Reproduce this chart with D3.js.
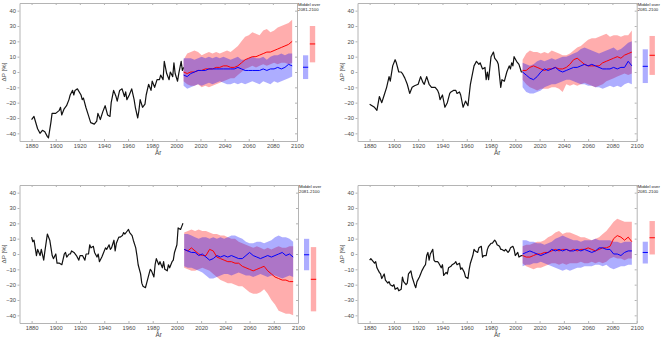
<!DOCTYPE html>
<html>
<head>
<meta charset="utf-8">
<script src="https://cdn.jsdelivr.net/npm/d3@7"></script>
<style>
  body { margin: 0; background: #fff; }
  svg { display: block; }
</style>
</head>
<body>
<svg id="chart" width="663" height="337"></svg>
<script>
// ---- axis ticks ----
const xTicks = [1880, 1900, 1920, 1940, 1960, 1980, 2000, 2020, 2040, 2060, 2080, 2100];
const yTicks = [-40, -30, -20, -10, 0, 10, 20, 30, 40];

// ---- projection years (shared by all panels) ----
const projYears = [2006, 2009, 2012, 2015, 2018, 2021, 2024, 2027, 2030, 2033, 2036, 2039, 2042, 2045, 2048,
  2051, 2054, 2057, 2060, 2063, 2066, 2069, 2072, 2075, 2078, 2081, 2084, 2087, 2090, 2093, 2096];

// ---- panel A (top left) ----
const obsYearsA = [1880, 1882, 1885, 1887, 1889, 1891, 1893, 1894, 1896, 1897, 1900, 1903, 1904, 1905, 1907, 1909,
  1911, 1912, 1914, 1915, 1916, 1918, 1921, 1922, 1923, 1925, 1927, 1929, 1932, 1934, 1935, 1937, 1939, 1941, 1943,
  1945, 1946, 1948, 1950, 1951, 1953, 1955, 1957, 1958, 1959, 1961, 1963, 1965, 1966, 1968, 1969, 1970, 1972, 1974,
  1975, 1977, 1979, 1980, 1982, 1984, 1986, 1987, 1989, 1990, 1992, 1994, 1995, 1997, 1998, 1999, 2001, 2002, 2004,
  2005, 2006];
const obsA = [-31, -29, -37, -40, -38, -39, -42, -43, -33, -27, -27, -25, -23, -28, -24, -22,
  -18, -15, -12, -15, -12, -11, -15, -18, -17, -23, -28, -33, -34, -32, -27, -31, -26, -22, -28,
  -29, -20, -12, -16, -19, -12, -11, -16, -13, -18, -15, -11, -18, -23, -30, -25, -18, -23, -21,
  -15, -8, -12, -6, -10, -5, -5, -2, -5, 7, -1, -5, 0, -3, 6, -1, -6, -1, 7,
  1, 3];
const redHiA = [8, 12, 13, 14, 13, 11, 12, 13, 12, 13, 12, 13, 14, 13, 15, 17, 20, 23, 24, 26, 25, 24, 27, 28, 26, 27, 29, 30, 31, 32, 34];
const redLoA = [-6, -8, -9, -9, -8, -10, -9, -10, -9, -8, -7, -6, -5, -4, -4, -2, 0, 2, 3, 4, 3, 4, 5, 4, 5, 6, 5, 6, 6, 5, 6];
const redMidA = [0, -1, 0, 0, 1, 1, 2, 2, 2, 3, 3, 4, 4, 3, 3, 4, 6, 8, 9, 10, 10, 11, 12, 13, 13, 14, 15, 16, 17, 18, 20];
const blueHiA = [9, 9, 9, 8, 9, 10, 9, 10, 9, 10, 9, 10, 9, 8, 9, 10, 8, 8, 9, 10, 9, 9, 10, 8, 10, 11, 11, 12, 11, 12, 12];
const blueLoA = [-9, -11, -10, -9, -8, -9, -8, -7, -8, -7, -6, -7, -8, -8, -7, -8, -7, -8, -7, -6, -7, -8, -6, -7, -8, -6, -7, -6, -5, -4, -3];
const blueMidA = [-2, -3, -1, 0, 1, 1, 1, 2, 2, 2, 2, 2, 2, 2, 2, 3, 2, 1, 1, 1, 1, 1, 2, 1, 2, 2, 3, 2, 3, 5, 4];
const barBlueA = [-4.6, 3.1, 10.9];   // low, mean, high (2081-2100)
const barRedA = [6.3, 18.3, 30];

// ---- panel B (top right) ----
const obsYearsB = [1880, 1882, 1884, 1886, 1888, 1890, 1892, 1894, 1896, 1897, 1899, 1901, 1902, 1904, 1906, 1907,
  1909, 1911, 1913, 1915, 1917, 1920, 1922, 1924, 1925, 1927, 1929, 1931, 1934, 1936, 1937, 1938, 1940, 1942, 1944,
  1946, 1947, 1949, 1951, 1952, 1954, 1955, 1957, 1959, 1961, 1963, 1964, 1966, 1968, 1970, 1971, 1973, 1975, 1976,
  1977, 1978, 1980, 1982, 1983, 1985, 1986, 1988, 1989, 1991, 1993, 1995, 1996, 1997, 1998, 1999, 2001, 2003, 2005,
  2006];
const obsB = [-21, -22, -23, -25, -16, -20, -15, -10, -3, -6, 4, 8, 6, 0, 0, -1,
  -4, -8, -14, -10, -9, -8, -3, -7, -8, -3, -8, -10, -10, -12, -14, -18, -15, -23, -20,
  -14, -13, -12, -12, -14, -13, -15, -23, -19, -22, -8, -4, 4, 7, 5, 6, 2, 3, -5,
  0, -5, 10, 13, 9, 7, 5, -10, -5, -6, 0, 4, 2, 6, 4, 10, 7, 5, 0,
  0];
const redHiB = [8, 12, 14, 13, 13, 12, 13, 12, 14, 13, 12, 11, 11, 12, 14, 16, 17, 19, 21, 22, 22, 23, 24, 25, 23, 24, 24, 23, 24, 24, 27];
const redLoB = [-5, -8, -10, -11, -12, -11, -11, -11, -10, -10, -11, -13, -8, -9, -8, -9, -8, -7, -8, -9, -10, -9, -8, -6, -5, -4, -3, -2, -1, -2, -1];
const redMidB = [1, 1, 3, 4, 3, 2, 1, 2, 2, 3, 2, 2, 3, 5, 8, 9, 7, 5, 4, 4, 4, 4, 6, 7, 8, 9, 10, 9, 11, 12, 13];
const blueHiB = [6, 5, 4, 5, 7, 8, 7, 8, 9, 8, 9, 10, 10, 11, 12, 13, 15, 16, 15, 14, 13, 12, 13, 14, 15, 16, 14, 15, 17, 19, 20];
const blueLoB = [-10, -13, -14, -14, -13, -12, -10, -9, -8, -8, -7, -6, -5, -5, -6, -7, -8, -8, -9, -9, -10, -10, -11, -10, -9, -10, -9, -10, -8, -7, -8];
const blueMidB = [0, -2, -4, -5, -3, 0, 2, 1, 2, 3, 1, 0, 1, 2, 3, 3, 4, 5, 4, 5, 4, 3, 2, 2, 2, 3, 2, 3, 3, 7, 4];
const barBlueB = [-7.2, 3.7, 14.8];
const barRedB = [-1.9, 10.9, 23.5];

// ---- panel C (bottom left) ----
const obsYearsC = [1880, 1881, 1882, 1884, 1885, 1887, 1888, 1890, 1891, 1893, 1895, 1897, 1898, 1900, 1901, 1903,
  1905, 1907, 1908, 1909, 1911, 1912, 1913, 1915, 1917, 1919, 1920, 1922, 1924, 1925, 1927, 1928, 1929, 1931, 1932,
  1934, 1935, 1936, 1938, 1939, 1941, 1942, 1944, 1945, 1946, 1948, 1949, 1950, 1952, 1953, 1955, 1956, 1957, 1959,
  1960, 1961, 1963, 1964, 1966, 1967, 1968, 1970, 1971, 1972, 1974, 1975, 1977, 1978, 1979, 1981, 1982, 1983, 1985,
  1986, 1988, 1989, 1990, 1992, 1993, 1994, 1996, 1997, 1998, 2000, 2001, 2003, 2004, 2005];
const obsC = [11, 8, 9, -1, 3, -1, 3, -4, 2, 13, 9, -1, -3, 0, -6, -6,
  -7, 0, 1, -2, 0, 0, 2, 1, -1, -4, -1, -1, -4, 0, 0, 6, 4, 5, 1,
  -2, 0, -5, -2, 0, 4, 3, 6, 3, 4, 9, 2, 7, 11, 11, 12, 14, 13, 15,
  16, 14, 12, 9, 4, -1, -7, -13, -19, -21, -22, -19, -13, -10, -11, -15, -7, -3, -7,
  -5, -9, -5, -10, -11, -7, -9, -5, -4, 1, 6, 17, 16, 18, 20];
const redHiC = [14, 15, 16, 15, 16, 15, 15, 14, 13, 13, 12, 12, 11, 10, 10, 8, 7, 6, 5, 4, 5, 4, 3, 4, 3, 4, 5, 4, 4, 5, 5];
const redLoC = [-9, -10, -11, -11, -10, -9, -10, -11, -13, -15, -17, -18, -19, -19, -20, -21, -21, -23, -25, -26, -26, -25, -23, -26, -30, -33, -37, -38, -39, -39, -40];
const redMidC = [3, 2, 4, 2, 0, -1, -1, 3, 2, -2, -3, -4, -5, -5, -6, -6, -8, -9, -10, -11, -10, -9, -8, -11, -13, -15, -16, -17, -17, -18, -18];
const blueHiC = [13, 13, 12, 11, 10, 11, 11, 10, 11, 10, 11, 10, 11, 12, 12, 11, 10, 8, 7, 7, 8, 8, 7, 8, 9, 11, 12, 11, 11, 10, 8];
const blueLoC = [-8, -9, -9, -10, -11, -12, -14, -16, -16, -15, -14, -13, -13, -14, -13, -12, -13, -14, -14, -15, -14, -13, -14, -15, -14, -14, -15, -16, -15, -14, -15];
const blueMidC = [3, 2, 1, 1, -1, 0, -2, -4, -3, -1, -2, -1, -2, -1, -2, -3, -3, -1, 1, -1, -2, -3, -2, -1, -2, -1, 0, 1, -1, 0, -2];
const barBlueC = [-10.6, -0.5, 9.9];
const barRedC = [-37.4, -16.5, 4.5];

// ---- panel D (bottom right) ----
const obsYearsD = [1880, 1881, 1882, 1884, 1885, 1886, 1888, 1889, 1890, 1892, 1893, 1895, 1896, 1897, 1899, 1900,
  1901, 1903, 1904, 1906, 1907, 1908, 1910, 1911, 1912, 1914, 1915, 1917, 1918, 1919, 1921, 1922, 1923, 1925, 1926,
  1927, 1928, 1929, 1930, 1932, 1933, 1934, 1936, 1937, 1939, 1940, 1941, 1943, 1944, 1945, 1947, 1948, 1950, 1951,
  1952, 1954, 1955, 1956, 1958, 1959, 1961, 1962, 1963, 1965, 1966, 1967, 1969, 1970, 1972, 1973, 1974, 1976, 1977,
  1978, 1980, 1981, 1983, 1984, 1985, 1987, 1988, 1989, 1991, 1992, 1994, 1995, 1996, 1998, 1999, 2000, 2002, 2003,
  2005, 2006];
const obsD = [-4, -3, -4, -6, -5, -9, -12, -13, -16, -13, -17, -19, -18, -20, -21, -20,
  -23, -22, -24, -23, -15, -18, -20, -19, -13, -11, -15, -20, -22, -18, -15, -13, -11, -8, -7,
  -1, 1, -4, 0, 3, -4, -5, -5, -6, -9, -7, -14, -12, -13, -9, -8, -7, -6, -5,
  -7, -6, -10, -9, -12, -15, -16, -10, -6, -1, 3, 2, 1, 4, 5, -2, -1, -1, 3,
  5, 7, 7, 9, 8, 6, 5, 3, 3, 2, 3, 1, 2, 4, 5, 3, -1, 1, -2,
  -1, -1];
const redHiD = [5, 6, 6, 7, 8, 8, 9, 11, 12, 14, 15, 13, 14, 14, 13, 12, 11, 11, 10, 9, 10, 11, 13, 15, 18, 21, 23, 22, 21, 21, 21];
const redLoD = [-6, -8, -9, -10, -9, -9, -8, -7, -6, -6, -7, -6, -7, -6, -6, -6, -5, -6, -6, -5, -6, -5, -6, -5, -3, -2, -3, -3, -4, -3, -3];
const redMidD = [-1, -2, -2, -1, 0, 0, 1, 1, 2, 3, 2, 3, 3, 2, 3, 2, 3, 3, 4, 3, 2, 3, 4, 4, 5, 10, 12, 11, 9, 11, 8];
const blueHiD = [9, 9, 8, 8, 7, 7, 6, 7, 8, 10, 11, 12, 11, 10, 9, 9, 8, 9, 9, 9, 10, 9, 9, 9, 9, 8, 8, 7, 8, 8, 8];
const blueLoD = [-8, -7, -7, -6, -6, -5, -6, -7, -8, -9, -10, -11, -10, -11, -10, -9, -9, -8, -8, -8, -7, -7, -8, -7, -9, -10, -9, -8, -8, -7, -7];
const blueMidD = [0, 1, 2, 1, 0, -1, 0, 1, 3, 2, 3, 2, 3, 2, 2, 3, 2, 3, 2, 1, 2, 4, 4, 3, 3, 0, 0, -1, 1, 2, 2];
const barBlueD = [-6.2, 1, 8];
const barRedD = [-0.3, 10.6, 21.5];

// ---- layout of the four panels ----
const panels = [
  { left: 19.5, right: 297, top: 3, bottom: 141,
    obsYears: obsYearsA, obs: obsA, redHi: redHiA, redLo: redLoA, redMid: redMidA,
    blueHi: blueHiA, blueLo: blueLoA, blueMid: blueMidA, barBlue: barBlueA, barRed: barRedA },
  { left: 357.5, right: 636.7, top: 3, bottom: 141,
    obsYears: obsYearsB, obs: obsB, redHi: redHiB, redLo: redLoB, redMid: redMidB,
    blueHi: blueHiB, blueLo: blueLoB, blueMid: blueMidB, barBlue: barBlueB, barRed: barRedB },
  { left: 19.5, right: 298, top: 185, bottom: 323,
    obsYears: obsYearsC, obs: obsC, redHi: redHiC, redLo: redLoC, redMid: redMidC,
    blueHi: blueHiC, blueLo: blueLoC, blueMid: blueMidC, barBlue: barBlueC, barRed: barRedC },
  { left: 357.5, right: 636.7, top: 185, bottom: 323,
    obsYears: obsYearsD, obs: obsD, redHi: redHiD, redLo: redLoD, redMid: redMidD,
    blueHi: blueHiD, blueLo: blueLoD, blueMid: blueMidD, barBlue: barBlueD, barRed: barRedD }
];

const FONT = "'Liberation Sans', Arial, Helvetica, sans-serif";
const AXIS_COLOR = "#b4b4b4";
const LABEL_COLOR = "#4a4a4a";
const RED = "#ff0000", BLUE = "#0000ff";
const BAND_OPACITY = 0.32;

const svg = d3.select("#chart");

function drawPanel(p) {
  const g = svg.append("g");
  const x = d3.scaleLinear().domain([1870, 2100]).range([p.left, p.right]);
  const y = d3.scaleLinear().domain([-45, 45]).range([p.bottom, p.top]);

  // ensemble ranges
  const band = (lo, hi) => d3.area()
    .x((d, i) => x(projYears[i]))
    .y0((d, i) => y(lo[i]))
    .y1((d, i) => y(hi[i]));
  g.append("path").datum(p.redHi).attr("d", band(p.redLo, p.redHi))
    .attr("fill", RED).attr("fill-opacity", BAND_OPACITY);
  g.append("path").datum(p.blueHi).attr("d", band(p.blueLo, p.blueHi))
    .attr("fill", BLUE).attr("fill-opacity", BAND_OPACITY);

  // observed series
  const obsLine = d3.line().x((d, i) => x(p.obsYears[i])).y(d => y(d));
  g.append("path").datum(p.obs).attr("d", obsLine)
    .attr("fill", "none").attr("stroke", "#111").attr("stroke-width", 1.2)
    .attr("stroke-linejoin", "round");

  // ensemble medians
  const projLine = d3.line().x((d, i) => x(projYears[i])).y(d => y(d));
  g.append("path").datum(p.redMid).attr("d", projLine)
    .attr("fill", "none").attr("stroke", RED).attr("stroke-width", 1);
  g.append("path").datum(p.blueMid).attr("d", projLine)
    .attr("fill", "none").attr("stroke", BLUE).attr("stroke-width", 1);

  // axes: box with ticks
  const styleAxis = sel => {
    sel.select(".domain").attr("stroke", AXIS_COLOR);
    sel.selectAll(".tick line").attr("stroke", AXIS_COLOR);
    sel.selectAll(".tick text").attr("fill", LABEL_COLOR)
      .style("font-family", FONT).style("font-size", "5.8px");
  };
  g.append("g").attr("transform", `translate(0,${p.bottom})`)
    .call(d3.axisBottom(x).tickValues(xTicks).tickFormat(d3.format("d"))
      .tickSizeInner(-2).tickSizeOuter(0).tickPadding(2.4))
    .call(styleAxis);
  g.append("g").attr("transform", `translate(0,${p.top})`)
    .call(d3.axisBottom(x).tickValues(xTicks).tickFormat("")
      .tickSizeInner(2).tickSizeOuter(0))
    .call(styleAxis);
  g.append("g").attr("transform", `translate(${p.left},0)`)
    .call(d3.axisLeft(y).tickValues(yTicks).tickSizeInner(2).tickSizeOuter(0).tickPadding(1.5))
    .call(styleAxis);
  g.append("g").attr("transform", `translate(${p.right},0)`)
    .call(d3.axisLeft(y).tickValues(yTicks).tickFormat("").tickSizeInner(2).tickSizeOuter(0))
    .call(styleAxis);

  // axis titles
  g.append("text")
    .attr("transform", `translate(${p.left - 14},${(p.top + p.bottom) / 2}) rotate(-90)`)
    .attr("text-anchor", "middle").attr("fill", LABEL_COLOR)
    .style("font-family", FONT).style("font-size", "6.2px")
    .text("ΔP [%]");
  g.append("text")
    .attr("x", (p.left + p.right) / 2).attr("y", p.bottom + 14.2)
    .attr("text-anchor", "middle").attr("fill", LABEL_COLOR)
    .style("font-family", FONT).style("font-size", "6.4px")
    .text("År");

  // 2081-2100 summary bars
  const bars = [
    { v: p.barBlue, color: BLUE, x0: p.right + 6, w: 5.2 },
    { v: p.barRed, color: RED, x0: p.right + 12.8, w: 5.4 }
  ];
  bars.forEach(b => {
    g.append("rect")
      .attr("x", b.x0).attr("width", b.w)
      .attr("y", y(b.v[2])).attr("height", y(b.v[0]) - y(b.v[2]))
      .attr("fill", b.color).attr("fill-opacity", BAND_OPACITY);
    g.append("line")
      .attr("x1", b.x0).attr("x2", b.x0 + b.w)
      .attr("y1", y(b.v[1])).attr("y2", y(b.v[1]))
      .attr("stroke", b.color).attr("stroke-width", 1);
  });

  const note = g.append("text").attr("fill", "#222")
    .style("font-family", FONT).style("font-size", "4.3px");
  note.append("tspan").attr("x", p.right + 1).attr("y", p.top + 2.6).text("Middel over");
  note.append("tspan").attr("x", p.right + 1).attr("y", p.top + 7.6).text("2081-2100");
}

panels.forEach(drawPanel);
</script>
</body>
</html>
